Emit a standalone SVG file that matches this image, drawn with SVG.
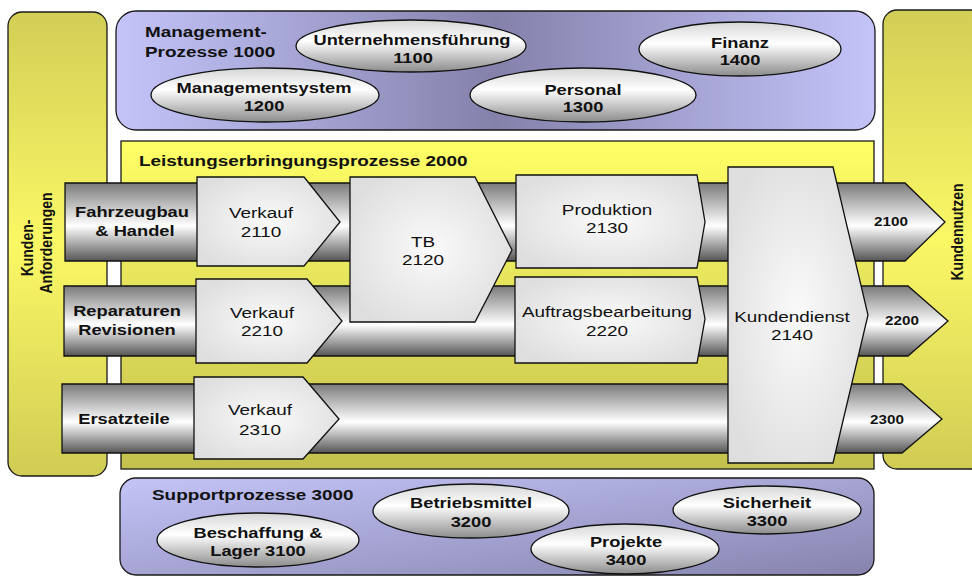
<svg xmlns="http://www.w3.org/2000/svg" width="972" height="576" viewBox="0 0 972 576">
<defs>
<linearGradient id="gSide" x1="0" y1="0" x2="0" y2="1">
<stop offset="0" stop-color="#d2ce56"/><stop offset="0.5" stop-color="#fbf866"/><stop offset="1" stop-color="#d0cc54"/>
</linearGradient>
<linearGradient id="gMgmt" x1="0" y1="0" x2="1" y2="0">
<stop offset="0" stop-color="#c4c4fa"/><stop offset="0.5" stop-color="#8482ab"/><stop offset="1" stop-color="#c4c4fa"/>
</linearGradient>
<linearGradient id="gSupp" x1="0" y1="0" x2="1" y2="1">
<stop offset="0" stop-color="#c4c4f8"/><stop offset="1" stop-color="#8684ae"/>
</linearGradient>
<linearGradient id="gMain" x1="0" y1="0" x2="0" y2="1">
<stop offset="0" stop-color="#ffff66"/><stop offset="1" stop-color="#c4c04e"/>
</linearGradient>
<linearGradient id="gBand" x1="0" y1="0" x2="0" y2="1">
<stop offset="0" stop-color="#7a7a7a"/><stop offset="0.55" stop-color="#ffffff"/><stop offset="1" stop-color="#555555"/>
</linearGradient>
<radialGradient id="gBox" cx="0.5" cy="0.5" r="0.6">
<stop offset="0" stop-color="#fafafa"/><stop offset="1" stop-color="#dedede"/>
</radialGradient>
<linearGradient id="gEll" x1="0" y1="0" x2="0" y2="1">
<stop offset="0" stop-color="#d6d6d6"/><stop offset="0.4" stop-color="#ffffff"/><stop offset="1" stop-color="#8c8c8c"/>
</linearGradient>
</defs>
<style>
.pan{stroke:#1a1a1a;stroke-width:1.3}
.band{fill:url(#gBand);stroke:#111;stroke-width:1.3}
.box{fill:url(#gBox);stroke:#111;stroke-width:1.3}
.ell{fill:url(#gEll);stroke:#111;stroke-width:1.3}
text{font-family:"Liberation Sans",Arial,sans-serif;fill:#111}
.b{font-weight:bold;font-size:15px}
.h{font-weight:bold;font-size:15.5px}
.r{font-size:15.5px}
.s{font-weight:bold;font-size:12.5px}
.v{font-weight:bold;font-size:14px}
.c{text-anchor:middle}
</style>

<g id="panel-left">
<rect class="pan" x="8" y="12" width="99" height="464" rx="14" fill="url(#gSide)"/>
<text class="v c" transform="translate(33,248) scale(1.22,1) rotate(-90)">Kunden-</text>
<text class="v c" transform="translate(52,243) scale(1.22,1) rotate(-90)">Anforderungen</text>
</g>
<g id="panel-right">
<rect class="pan" x="883" y="10" width="110" height="459" rx="14" fill="url(#gSide)"/>
<text class="v c" transform="translate(963,232) scale(1.22,1) rotate(-90)">Kundennutzen</text>
</g>

<g id="management">
<rect class="pan" x="116" y="11" width="759" height="119" rx="20" fill="url(#gMgmt)"/>
<text class="h" transform="translate(145,37) scale(1.22,1)">Management-</text>
<text class="h" transform="translate(145,57) scale(1.22,1)">Prozesse 1000</text>
</g>
<g id="n1100">
<ellipse class="ell" cx="411" cy="46" rx="115" ry="26"/>
<text class="b c" transform="translate(412,45) scale(1.22,1)">Unternehmensführung</text>
<text class="b c" transform="translate(413,63) scale(1.22,1)">1100</text>
</g>
<g id="n1200">
<ellipse class="ell" cx="265" cy="95" rx="114" ry="27"/>
<text class="b c" transform="translate(264,93) scale(1.22,1)">Managementsystem</text>
<text class="b c" transform="translate(264,111) scale(1.22,1)">1200</text>
</g>
<g id="n1300">
<ellipse class="ell" cx="583" cy="95" rx="113" ry="27"/>
<text class="b c" transform="translate(583,95) scale(1.22,1)">Personal</text>
<text class="b c" transform="translate(583,112) scale(1.22,1)">1300</text>
</g>
<g id="n1400">
<ellipse class="ell" cx="740" cy="49" rx="101" ry="27"/>
<text class="b c" transform="translate(740,48) scale(1.22,1)">Finanz</text>
<text class="b c" transform="translate(740,65) scale(1.22,1)">1400</text>
</g>

<g id="leistung">
<rect class="pan" x="121" y="141" width="753" height="328" fill="url(#gMain)"/>
<text class="h" transform="translate(139,166) scale(1.22,1)">Leistungserbringungsprozesse 2000</text>
</g>

<g id="band2100">
<polygon class="band" points="65,183 905,183 945,222 905,261 65,261"/>
<text class="b c" transform="translate(132,217) scale(1.22,1)">Fahrzeugbau</text>
<text class="b c" transform="translate(135,236) scale(1.22,1)">&amp; Handel</text>
<text class="s c" transform="translate(891,226) scale(1.22,1)">2100</text>
</g>
<g id="band2200">
<polygon class="band" points="64,286 908,286 948,321 908,356 64,356"/>
<text class="b c" transform="translate(127,316) scale(1.22,1)">Reparaturen</text>
<text class="b c" transform="translate(127,335) scale(1.22,1)">Revisionen</text>
<text class="s c" transform="translate(902,325) scale(1.22,1)">2200</text>
</g>
<g id="band2300">
<polygon class="band" points="62,384 902,384 942,419 902,453 62,453"/>
<text class="b c" transform="translate(124,424) scale(1.22,1)">Ersatzteile</text>
<text class="s c" transform="translate(887,424) scale(1.22,1)">2300</text>
</g>

<g id="n2110">
<polygon class="box" points="197,177 304,177 340,222 304,266 197,266"/>
<text class="r c" transform="translate(261,218) scale(1.22,1)">Verkauf</text>
<text class="r c" transform="translate(261,237) scale(1.22,1)">2110</text>
</g>
<g id="n2120">
<polygon class="box" points="350,177 475,177 512,250 475,322 350,322"/>
<text class="r c" transform="translate(423,247) scale(1.22,1)">TB</text>
<text class="r c" transform="translate(423,265) scale(1.22,1)">2120</text>
</g>
<g id="n2130">
<polygon class="box" points="516,175 697,175 705,222 697,268 516,268"/>
<text class="r c" transform="translate(607,215) scale(1.22,1)">Produktion</text>
<text class="r c" transform="translate(607,233) scale(1.22,1)">2130</text>
</g>
<g id="n2210">
<polygon class="box" points="196,279 307,279 342,321 307,363 196,363"/>
<text class="r c" transform="translate(262,318) scale(1.22,1)">Verkauf</text>
<text class="r c" transform="translate(262,336) scale(1.22,1)">2210</text>
</g>
<g id="n2220">
<polygon class="box" points="515,277 697,277 705,319 697,363 515,363"/>
<text class="r c" transform="translate(607,317) scale(1.22,1)">Auftragsbearbeitung</text>
<text class="r c" transform="translate(607,336) scale(1.22,1)">2220</text>
</g>
<g id="n2310">
<polygon class="box" points="194,377 303,377 339,419 303,459 194,459"/>
<text class="r c" transform="translate(260,415) scale(1.22,1)">Verkauf</text>
<text class="r c" transform="translate(260,435) scale(1.22,1)">2310</text>
</g>
<g id="n2140">
<polygon class="box" points="728,167 833,167 868,315 833,463 728,463"/>
<text class="r c" transform="translate(792,322) scale(1.22,1)">Kundendienst</text>
<text class="r c" transform="translate(792,340) scale(1.22,1)">2140</text>
</g>

<g id="support">
<rect class="pan" x="120" y="478" width="754" height="97" rx="16" fill="url(#gSupp)"/>
<text class="h" transform="translate(152,500) scale(1.22,1)">Supportprozesse 3000</text>
</g>
<g id="n3100">
<ellipse class="ell" cx="258" cy="540" rx="101" ry="27"/>
<text class="b c" transform="translate(258,538) scale(1.22,1)">Beschaffung &amp;</text>
<text class="b c" transform="translate(258,556) scale(1.22,1)">Lager 3100</text>
</g>
<g id="n3200">
<ellipse class="ell" cx="471" cy="511" rx="98" ry="27"/>
<text class="b c" transform="translate(471,508) scale(1.22,1)">Betriebsmittel</text>
<text class="b c" transform="translate(471,527) scale(1.22,1)">3200</text>
</g>
<g id="n3300">
<ellipse class="ell" cx="767" cy="510" rx="94" ry="24"/>
<text class="b c" transform="translate(767,508) scale(1.22,1)">Sicherheit</text>
<text class="b c" transform="translate(767,526) scale(1.22,1)">3300</text>
</g>
<g id="n3400">
<ellipse class="ell" cx="625" cy="549" rx="94" ry="25"/>
<text class="b c" transform="translate(626,547) scale(1.22,1)">Projekte</text>
<text class="b c" transform="translate(626,565) scale(1.22,1)">3400</text>
</g>
<g id="connectors"/>
</svg>
